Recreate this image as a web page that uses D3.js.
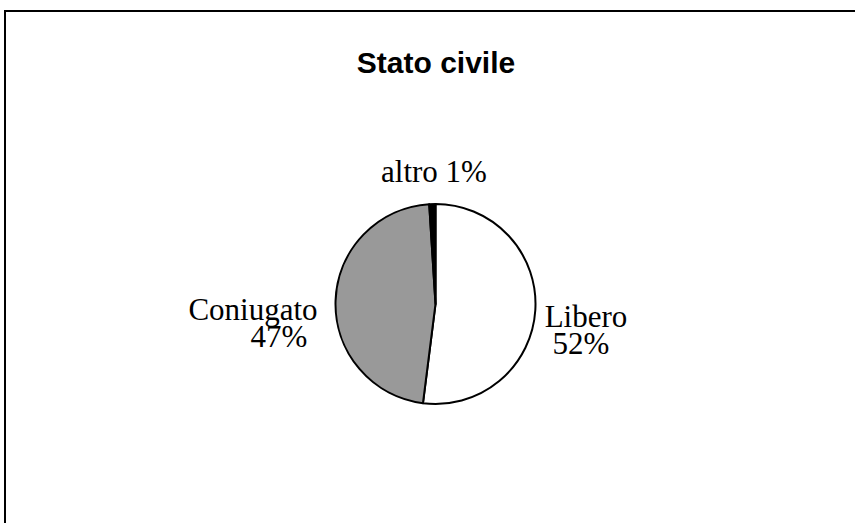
<!DOCTYPE html>
<html>
<head>
<meta charset="utf-8">
<script src="https://cdn.jsdelivr.net/npm/d3@7/dist/d3.min.js"></script>
<style>
  html, body { margin: 0; padding: 0; background: #fff; }
  svg { display: block; }
</style>
</head>
<body>
<svg id="chart" width="855" height="523"></svg>
<script>
// Marital status breakdown (percent)
const categories = ["Libero", "Coniugato", "altro"];
const values = [52, 47, 1];
const colors = ["#ffffff", "#999999", "#000000"];
const title = "Stato civile";

const svg = d3.select("#chart");
const W = 855, H = 523;

// chart frame (continues past the right and bottom edges)
svg.append("rect")
  .attr("x", 5).attr("y", 11)
  .attr("width", W + 10).attr("height", H + 10)
  .attr("fill", "#fff")
  .attr("stroke", "#000")
  .attr("stroke-width", 2);

svg.append("text")
  .attr("x", 436).attr("y", 73)
  .attr("text-anchor", "middle")
  .attr("font-family", "Liberation Sans, Arial, sans-serif")
  .attr("font-weight", "bold")
  .attr("font-size", 30)
  .text(title);

const cx = 435.5, cy = 304, r = 100;
const data = categories.map((c, i) => ({ name: c, value: values[i], color: colors[i] }));

const pie = d3.pie().sort(null).value(d => d.value);
const arc = d3.arc().innerRadius(0).outerRadius(r);
const arcs = pie(data);

const g = svg.append("g").attr("transform", `translate(${cx},${cy})`);
g.selectAll("path")
  .data(arcs)
  .join("path")
  .attr("d", arc)
  .attr("fill", d => d.data.color)
  .attr("stroke", "#000")
  .attr("stroke-width", 2)
  .attr("stroke-linejoin", "round");

// label placement per slice: [x, y of first line, anchor, two lines?]
const labelPos = {
  "Libero":    { x: 586, y: 327, lines: 2, anchor: "middle", dx2: -5 },
  "Coniugato": { x: 253, y: 320, lines: 2, anchor: "middle", dx2: 26 },
  "altro":     { x: 434, y: 182, lines: 1, anchor: "middle" }
};

const labels = svg.append("g")
  .attr("font-family", "Liberation Serif, Times New Roman, serif")
  .attr("font-size", 31)
  .attr("fill", "#000");

arcs.forEach(a => {
  const p = labelPos[a.data.name];
  const pct = a.data.value + "%";
  if (p.lines === 1) {
    labels.append("text")
      .attr("x", p.x).attr("y", p.y)
      .attr("text-anchor", p.anchor)
      .text(a.data.name + " " + pct);
  } else {
    labels.append("text")
      .attr("x", p.x).attr("y", p.y)
      .attr("text-anchor", p.anchor)
      .text(a.data.name);
    labels.append("text")
      .attr("x", p.x + p.dx2).attr("y", p.y + 27)
      .attr("text-anchor", p.anchor)
      .text(pct);
  }
});
</script>
</body>
</html>
